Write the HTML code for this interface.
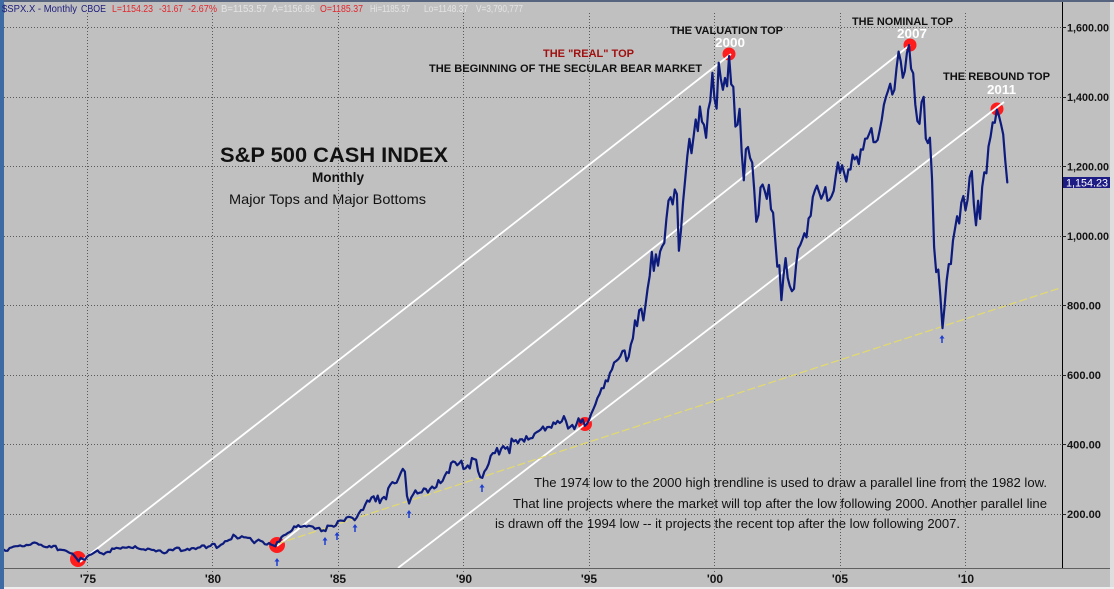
<!DOCTYPE html>
<html>
<head>
<meta charset="utf-8">
<style>
html,body{margin:0;padding:0;width:1114px;height:589px;overflow:hidden;background:#c0c0c0}
svg{display:block}
</style>
</head>
<body>
<svg width="1114" height="589" viewBox="0 0 1114 589" xmlns="http://www.w3.org/2000/svg" font-family="'Liberation Sans', Arial, sans-serif">
<defs>
<clipPath id="plot"><rect x="4" y="2" width="1058" height="566"/></clipPath>
</defs>
<rect width="1114" height="589" fill="#c0c0c0"/>
<rect x="1110" y="0" width="4" height="589" fill="#dedede"/>
<rect x="0" y="587" width="1114" height="2" fill="#eeeeee"/>
<rect x="0" y="0" width="1114" height="2" fill="#56647f"/>
<rect x="0" y="0" width="4" height="589" fill="#3d6aa3"/>

<!-- header -->
<g font-size="10">
<text x="2" y="12" fill="#1c1c7c" textLength="75" lengthAdjust="spacingAndGlyphs">$SPX.X - Monthly</text>
<text x="81" y="12" fill="#1c1c7c" textLength="25" lengthAdjust="spacingAndGlyphs">CBOE</text>
<text x="112" y="12" fill="#e3262c" textLength="41" lengthAdjust="spacingAndGlyphs">L=1154.23</text>
<text x="159" y="12" fill="#e3262c" textLength="24" lengthAdjust="spacingAndGlyphs">-31.67</text>
<text x="188" y="12" fill="#e3262c" textLength="29" lengthAdjust="spacingAndGlyphs">-2.67%</text>
<text x="221" y="12" fill="#e4e4e4" textLength="46" lengthAdjust="spacingAndGlyphs">B=1153.57</text>
<text x="272" y="12" fill="#e4e4e4" textLength="43" lengthAdjust="spacingAndGlyphs">A=1156.86</text>
<text x="320" y="12" fill="#e3262c" textLength="43" lengthAdjust="spacingAndGlyphs">O=1185.37</text>
<text x="370" y="12" fill="#e4e4e4" textLength="40" lengthAdjust="spacingAndGlyphs">Hi=1185.37</text>
<text x="424" y="12" fill="#e4e4e4" textLength="44" lengthAdjust="spacingAndGlyphs">Lo=1148.37</text>
<text x="476" y="12" fill="#e4e4e4" textLength="47" lengthAdjust="spacingAndGlyphs">V=3,790,777</text>
</g>

<!-- grid -->
<g stroke="#5a5a5a" stroke-width="1" stroke-dasharray="1 2" fill="none">
<path d="M4 27.5H1062M4 97.5H1062M4 166.5H1062M4 236.5H1062M4 305.5H1062M4 375.5H1062M4 444.5H1062M4 514.5H1062"/>
<path d="M87.5 13V572M212.5 13V572M338.5 13V572M463.5 13V572M589.5 13V572M714.5 13V572M840.5 13V572M965.5 13V572"/>
</g>
<line x1="4" y1="568.5" x2="1110" y2="568.5" stroke="#606060" stroke-width="1"/>
<line x1="1062.5" y1="2" x2="1062.5" y2="568" stroke="#000" stroke-width="1"/>
<path d="M1062 27.5H1066M1062 97.5H1066M1062 166.5H1066M1062 236.5H1066M1062 305.5H1066M1062 375.5H1066M1062 444.5H1066M1062 514.5H1066" stroke="#222" stroke-width="1"/>

<!-- right axis labels -->
<g font-size="11" font-weight="bold" fill="#141414">
<text x="1067" y="31.5" textLength="42" lengthAdjust="spacingAndGlyphs">1,600.00</text>
<text x="1067" y="101" textLength="42" lengthAdjust="spacingAndGlyphs">1,400.00</text>
<text x="1067" y="170.5" textLength="42" lengthAdjust="spacingAndGlyphs">1,200.00</text>
<text x="1067" y="240" textLength="42" lengthAdjust="spacingAndGlyphs">1,000.00</text>
<text x="1067" y="309.5" textLength="34" lengthAdjust="spacingAndGlyphs">800.00</text>
<text x="1067" y="379" textLength="34" lengthAdjust="spacingAndGlyphs">600.00</text>
<text x="1067" y="448.5" textLength="34" lengthAdjust="spacingAndGlyphs">400.00</text>
<text x="1067" y="518" textLength="34" lengthAdjust="spacingAndGlyphs">200.00</text>
</g>
<rect x="1063" y="177" width="47" height="11" fill="#1c1c84"/>
<text x="1066" y="186.5" font-size="11" fill="#ffffff" textLength="42" lengthAdjust="spacingAndGlyphs">1,154.23</text>

<!-- x axis labels -->
<g font-size="12" font-weight="bold" fill="#141414" text-anchor="middle">
<text x="88" y="583">'75</text>
<text x="213" y="583">'80</text>
<text x="338" y="583">'85</text>
<text x="464" y="583">'90</text>
<text x="589" y="583">'95</text>
<text x="715" y="583">'00</text>
<text x="840" y="583">'05</text>
<text x="966" y="583">'10</text>
</g>

<!-- red circles -->
<g fill="#ff1c1c">
<circle cx="78" cy="559" r="8"/>
<circle cx="277" cy="545" r="8"/>
<circle cx="585" cy="424" r="7"/>
<circle cx="729" cy="54" r="6.5"/>
<circle cx="910" cy="45" r="6.5"/>
<circle cx="997" cy="109" r="6.5"/>
</g>

<!-- trend lines -->
<g clip-path="url(#plot)">
<line x1="80" y1="562" x2="731" y2="54" stroke="#ffffff" stroke-width="1.8"/>
<line x1="277" y1="546" x2="910" y2="45" stroke="#ffffff" stroke-width="1.8"/>
<line x1="398" y1="568" x2="1004" y2="102" stroke="#ffffff" stroke-width="1.8"/>
<line x1="277" y1="544" x2="1060" y2="288" stroke="#e3da6c" stroke-width="1.2" stroke-dasharray="8 3"/>
<path id="series" d="" fill="none" stroke="#0d1b7d" stroke-width="2.2" stroke-linejoin="round" stroke-linecap="round"/>
</g>

<!-- arrows -->
<g fill="#1f3fd0" stroke="#1f3fd0">
<g transform="translate(277,558)"><polygon points="-2.5,3.5 0,0 2.5,3.5" stroke="none"/><line x1="0" y1="2" x2="0" y2="8" stroke-width="1.5"/></g>
<g transform="translate(325,537)"><polygon points="-2.5,3.5 0,0 2.5,3.5" stroke="none"/><line x1="0" y1="2" x2="0" y2="8" stroke-width="1.5"/></g>
<g transform="translate(337,532)"><polygon points="-2.5,3.5 0,0 2.5,3.5" stroke="none"/><line x1="0" y1="2" x2="0" y2="8" stroke-width="1.5"/></g>
<g transform="translate(355,524)"><polygon points="-2.5,3.5 0,0 2.5,3.5" stroke="none"/><line x1="0" y1="2" x2="0" y2="8" stroke-width="1.5"/></g>
<g transform="translate(409,510)"><polygon points="-2.5,3.5 0,0 2.5,3.5" stroke="none"/><line x1="0" y1="2" x2="0" y2="8" stroke-width="1.5"/></g>
<g transform="translate(482,484)"><polygon points="-2.5,3.5 0,0 2.5,3.5" stroke="none"/><line x1="0" y1="2" x2="0" y2="8" stroke-width="1.5"/></g>
<g transform="translate(942,335)"><polygon points="-2.5,3.5 0,0 2.5,3.5" stroke="none"/><line x1="0" y1="2" x2="0" y2="8" stroke-width="1.5"/></g>
</g>

<!-- annotations -->
<text x="220" y="162" font-size="21" font-weight="bold" fill="#111" textLength="228" lengthAdjust="spacingAndGlyphs">S&amp;P 500 CASH INDEX</text>
<text x="312" y="182" font-size="14" font-weight="bold" fill="#111" textLength="52" lengthAdjust="spacingAndGlyphs">Monthly</text>
<text x="229" y="204" font-size="14" fill="#111" textLength="197" lengthAdjust="spacingAndGlyphs">Major Tops and Major Bottoms</text>

<g font-size="11" font-weight="bold">
<text x="670" y="34" fill="#111" textLength="113" lengthAdjust="spacingAndGlyphs">THE VALUATION TOP</text>
<text x="543" y="57" fill="#a01010" textLength="91" lengthAdjust="spacingAndGlyphs">THE "REAL" TOP</text>
<text x="429" y="72" fill="#111" textLength="273" lengthAdjust="spacingAndGlyphs">THE BEGINNING OF THE SECULAR BEAR MARKET</text>
<text x="852" y="25" fill="#111" textLength="101" lengthAdjust="spacingAndGlyphs">THE NOMINAL TOP</text>
<text x="943" y="80" fill="#111" textLength="107" lengthAdjust="spacingAndGlyphs">THE REBOUND TOP</text>
</g>
<g font-size="13" font-weight="bold" fill="#ffffff">
<text x="715" y="47" textLength="30" lengthAdjust="spacingAndGlyphs">2000</text>
<text x="897" y="38" textLength="30" lengthAdjust="spacingAndGlyphs">2007</text>
<text x="987" y="94" textLength="29" lengthAdjust="spacingAndGlyphs">2011</text>
</g>

<g font-size="13" fill="#111">
<text x="534" y="487" textLength="513" lengthAdjust="spacingAndGlyphs">The 1974 low to the 2000 high trendline is used to draw a parallel line from the 1982 low.</text>
<text x="513" y="508" textLength="534" lengthAdjust="spacingAndGlyphs">That line projects where the market will top after the low following 2000.  Another parallel line</text>
<text x="495" y="528" textLength="465" lengthAdjust="spacingAndGlyphs">is drawn off the 1994 low -- it projects the recent top after the low following 2007.</text>
</g>
</svg>
<script>
(function(){
var s="98.34,94.23,93.99,102.09,"+
"103.94,106.57,107.20,107.67,109.53,107.14,107.39,111.09,110.55,111.58,116.67,118.05,"+
"116.03,111.68,111.52,106.97,104.95,104.26,108.22,104.25,108.43,108.29,95.96,97.55,"+
"96.57,96.22,93.98,90.31,87.28,86.00,79.31,72.15,63.54,73.90,69.97,68.56,"+
"76.98,81.59,83.36,87.30,91.15,95.19,88.75,86.88,83.87,89.04,91.24,90.19,"+
"100.86,99.71,102.77,101.64,100.18,104.28,103.44,102.91,105.24,102.90,102.10,107.46,"+
"102.03,99.82,98.42,98.44,96.12,100.48,98.85,96.77,96.53,92.34,94.83,95.10,"+
"89.25,87.04,89.21,96.83,97.24,95.53,100.68,103.29,102.54,93.15,94.70,96.11,"+
"99.93,96.28,101.59,101.76,99.08,102.91,103.81,109.32,109.32,101.82,106.16,107.94,"+
"114.16,113.66,102.09,106.29,111.24,114.24,121.67,122.38,125.46,127.47,140.52,135.76,"+
"129.55,131.27,136.00,132.81,132.59,131.21,130.92,122.79,116.18,121.89,126.35,122.55,"+
"120.40,113.11,111.96,116.44,111.88,109.61,107.09,119.51,120.42,133.71,138.54,140.64,"+
"145.30,148.06,152.96,164.42,162.39,168.11,162.56,164.40,166.07,163.55,166.40,164.93,"+
"163.41,157.06,159.18,160.05,150.55,153.18,150.66,166.68,166.10,166.09,163.58,167.24,"+
"179.63,181.18,180.66,179.83,189.55,191.85,190.92,188.63,182.08,189.82,202.17,211.28,"+
"211.78,226.92,238.90,235.52,247.35,250.84,236.12,252.93,231.32,243.98,249.22,242.17,"+
"274.08,284.20,291.70,288.36,290.10,304.00,318.66,329.80,321.83,251.79,230.30,247.08,"+
"257.07,267.82,258.89,261.33,262.16,273.50,272.02,261.52,271.91,278.97,273.70,277.72,"+
"297.47,288.86,294.87,309.64,320.52,317.98,346.08,351.45,349.15,340.36,345.99,353.40,"+
"329.08,331.89,339.94,330.80,361.23,358.02,356.15,322.56,306.05,304.00,322.22,330.22,"+
"343.93,367.07,375.22,375.35,389.83,371.16,387.81,395.43,387.86,392.46,375.22,417.09,"+
"408.79,412.70,403.69,414.95,415.35,408.14,424.21,414.03,417.80,418.68,431.35,435.71,"+
"438.78,443.38,451.67,440.19,450.19,450.53,448.13,463.56,458.93,467.83,461.79,466.45,"+
"481.61,467.14,445.77,450.91,456.50,444.27,458.26,475.49,462.69,472.35,453.69,459.27,"+
"470.42,487.39,500.71,514.71,533.40,544.75,562.06,561.88,584.41,581.50,605.37,615.93,"+
"636.02,640.43,645.50,654.17,669.12,670.63,639.95,651.99,687.31,705.27,757.02,740.74,"+
"786.16,790.82,757.12,801.34,848.28,885.14,954.29,899.47,947.28,914.62,955.40,970.43,"+
"980.28,1049.34,1101.75,1111.75,1090.82,1133.84,1120.67,957.28,1017.01,1098.67,1163.63,1229.23,"+
"1279.64,1238.33,1286.37,1335.18,1301.84,1372.71,1328.72,1320.41,1282.71,1362.93,1388.91,1469.25,"+
"1394.46,1366.42,1498.58,1452.43,1420.60,1454.60,1430.83,1517.68,1436.51,1429.40,1314.95,1320.28,"+
"1366.01,1239.94,1160.33,1249.46,1255.82,1224.42,1211.23,1133.58,1040.94,1059.78,1139.45,1148.08,"+
"1130.20,1106.73,1147.39,1076.92,1067.14,989.82,911.62,916.07,815.28,885.76,936.31,879.82,"+
"855.70,841.15,848.18,916.92,963.59,974.50,990.31,1008.01,995.97,1050.71,1058.20,1111.92,"+
"1131.13,1144.94,1126.21,1107.30,1120.68,1140.84,1101.72,1104.24,1114.58,1130.20,1173.82,1211.92,"+
"1181.27,1203.60,1180.59,1156.85,1191.50,1191.33,1234.18,1220.33,1228.81,1207.01,1249.48,1248.29,"+
"1280.08,1280.66,1294.83,1310.61,1270.09,1270.20,1276.66,1303.82,1335.85,1377.94,1400.63,1418.30,"+
"1438.24,1406.82,1420.86,1482.37,1530.62,1503.35,1455.27,1473.99,1526.75,1549.38,1481.14,1468.36,"+
"1378.55,1330.63,1322.70,1385.59,1400.38,1280.00,1267.38,1282.83,1166.36,968.75,896.24,903.25,"+
"825.88,735.09,797.87,872.81,919.14,919.32,987.48,1020.62,1057.08,1036.19,1095.63,1115.10,"+
"1073.87,1104.49,1169.43,1186.69,1089.41,1030.71,1101.60,1049.33,1141.20,1183.26,1180.55,1257.64,"+
"1286.12,1327.22,1325.83,1363.61,1345.20,1320.64,1292.28,1218.89,1154.23";
var v=s.split(","),d="",t0=1971+8/12;
for(var i=0;i<v.length;i++){
var t=t0+i/12,x=87+(t-1975)*25.1,y=27.5+(1600-parseFloat(v[i]))*0.3475;
d+=(i?"L":"M")+x.toFixed(1)+" "+y.toFixed(1);
}
document.getElementById("series").setAttribute("d",d);
})();
</script>
</body>
</html>
